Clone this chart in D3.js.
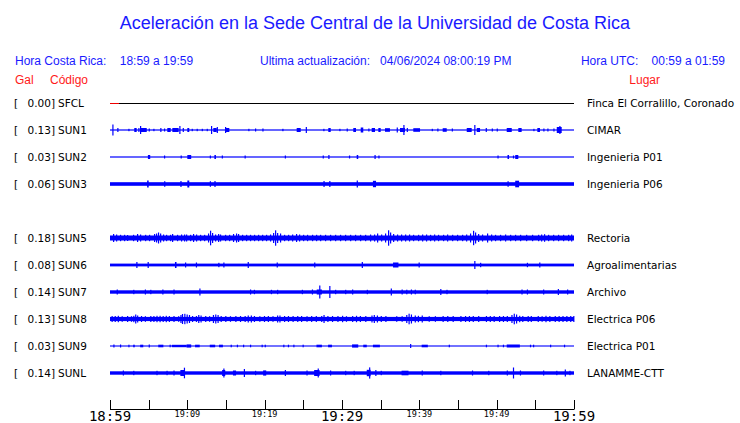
<!DOCTYPE html>
<html><head><meta charset="utf-8">
<script src="https://cdn.jsdelivr.net/npm/d3@7"></script>
<style>body{margin:0;background:#fff}svg{display:block}</style>
</head><body>
<script>
// ---------- DATA ----------
const title = "Aceleración en la Sede Central de la Universidad de Costa Rica";
const headerLocal = "Hora Costa Rica:    18:59 a 19:59";
const headerUpdate = "Ultima actualización:   04/06/2024 08:00:19 PM";
const headerUTC = "Hora UTC:    00:59 a 01:59";
const stationCodes = ["SFCL","SUN1","SUN2","SUN3","SUN4","SUN5","SUN6","SUN7","SUN8","SUN9","SUNL"];
const stationPGA   = [0.00, 0.13, 0.03, 0.06, null, 0.18, 0.08, 0.14, 0.13, 0.03, 0.14];
const stationPlace = ["Finca El Corralillo, Coronado","CIMAR","Ingenieria P01","Ingenieria P06","",
  "Rectoria","Agroalimentarias","Archivo","Electrica P06","Electrica P01","LANAMME-CTT"];
// background noise amplitude of each trace (trace units)
const noiseLevel = [0.5, 0.6, 0.6, 1.8, null, 2.5, 1.4, 1.7, 2.1, 0.55, 1.7];
// bursts: [start minute, end minute, amplitude] (minutes after 18:59)
const burstsSUN1 = [[0.3,0.3,5.5],[0.94,0.94,2],[2.37,2.37,1.2],[3.14,3.45,2],[3.66,3.66,2],[3.88,3.88,4],[3.97,4.75,2],
 [5.0,5.0,1.5],[5.6,5.6,1.2],[6.5,6.5,2],[6.98,6.98,1.5],[7.41,7.85,2],[8.06,8.88,2],[8.96,8.96,4],[9.4,9.4,2],
 [10.0,10.25,2],[10.56,10.56,1.2],[11.2,11.2,1.2],[11.86,11.86,1.2],[12.5,12.5,1.2],[13.06,13.06,4],[13.36,13.8,2],
 [13.8,13.8,3],[14.87,14.87,3],[14.87,15.43,2],[17.88,17.88,1.2],[18.75,18.75,1.5],[19.7,19.7,1.5],[22.28,22.28,1.2],
 [24.14,24.66,2],[25.31,25.31,3],[27.58,27.58,1.2],[28.23,28.54,2],[29.65,29.65,1.2],[30.6,30.6,1.5],
 [31.46,31.81,2],[32.42,32.75,2.5],[33.4,33.4,1.5],[33.84,34.27,2],[34.7,35.0,2],[35.56,36.2,1.8],[37.07,37.07,2.5],
 [37.5,38.15,2],[37.93,37.93,5],[38.37,38.37,2],[39.22,40.09,1.8],[41.6,41.6,1.2],[42.32,42.32,1.5],[43.02,43.54,1.8],
 [44.19,44.19,1.5],[46.13,46.77,2],[47.1,47.1,5],[47.42,47.85,2],[48.58,48.58,2],[49.36,49.36,1.5],[50.0,50.0,1.5],
 [51.3,51.95,2],[52.8,53.23,2],[54.74,54.74,1.2],[55.26,55.6,2],[56.03,56.03,1.5],[56.55,56.55,1.5],[57.33,57.33,1.5],
 [57.77,58.41,3],[58.1,58.1,4]];
const burstsSUN2 = [[4.9,5.2,2],[6.98,6.98,1.5],[9.13,9.13,1.5],[10.0,10.5,2],[12.9,12.9,1.5],[13.5,13.7,2],[14.45,14.45,1.5],
 [17.4,17.4,1.5],[22.6,22.6,1.5],[27.5,27.5,1.5],[28.23,28.35,2],[30.9,30.9,1.5],[31.9,32.1,2],[34.2,34.35,2],[34.7,34.7,1.5],
 [50.1,50.1,1.5],[51.4,51.6,2],[52.1,52.1,1.5],[52.4,52.8,2]];
const burstsSUN3 = [[4.8,5.0,3.5],[7.0,7.0,2.8],[9.1,9.1,3],[10.0,10.25,3.5],[12.9,12.9,2.8],[13.5,13.5,3],[27.6,27.6,3],
 [28.35,28.35,3],[31.9,32.0,3.5],[34.0,34.4,3.2],[51.4,51.4,2.8],[52.4,52.9,3.3]];
const burstsSUN5 = [[0.39,0.39,4],[0.78,0.78,3.5],[1.29,1.29,3.2],[1.81,1.81,3.2],[2.2,2.2,3],[2.97,2.97,3.2],[3.49,3.49,4],
 [3.88,3.88,3.5],[4.53,4.53,3.2],[5.04,5.04,3.2],[5.69,5.69,4],[5.95,5.95,4.5],[6.2,6.2,5.5],[6.47,6.47,4.5],[6.85,6.85,3.5],
 [7.24,7.24,3.2],[7.76,7.76,3.2],[8.02,8.02,4],[8.66,8.66,3.2],[9.18,9.18,3.5],[9.57,9.57,3.5],[9.83,9.83,3.5],[10.35,10.35,3.2],
 [10.73,10.73,4],[11.12,11.12,3.5],[11.64,11.64,3.2],[12.16,12.16,3.2],[12.67,12.67,4.5],[12.93,12.93,7.3],[13.19,13.19,5],
 [13.58,13.58,3.5],[13.97,13.97,4],[14.22,14.22,3.5],[14.87,14.87,3.2],[15.39,15.39,3.2],[15.9,15.9,4],[16.29,16.29,4.5],
 [16.55,16.55,4],[17.07,17.07,3.2],[17.59,17.59,3.2],[18.1,18.1,3.2],[18.62,18.62,3.2],[19.14,19.14,3.2],[19.66,19.66,3.2],
 [20.17,20.17,3.2],[20.69,20.69,3.5],[21.08,21.08,5],[21.34,21.34,7.7],[21.6,21.6,5],[21.98,21.98,4.5],[22.5,22.5,3.2],
 [23.02,23.02,3.2],[23.54,23.54,3.5],[24.05,24.05,4],[24.44,24.44,3.5],[24.96,24.96,3.2],[25.47,25.47,3.2],[26.12,26.12,3.2],
 [26.64,26.64,3.2],[27.16,27.16,3.2],[27.8,27.8,3.2],[28.45,28.45,3.2],[29.1,29.1,3.2],[29.74,29.74,3.2],[30.39,30.39,3.2],
 [31.04,31.04,3.2],[31.68,31.68,3.2],[32.33,32.33,3.2],[32.98,32.98,3.2],[33.62,33.62,3.5],[34.14,34.14,3.5],[34.53,34.53,4.5],
 [35.05,35.05,3.5],[35.56,35.56,4.5],[35.95,35.95,7.7],[36.21,36.21,5.5],[36.6,36.6,4],[37.11,37.11,3.5],[37.63,37.63,3.5],
 [38.15,38.15,3.5],[38.66,38.66,3.5],[39.18,39.18,3.2],[39.83,39.83,3.2],[40.35,40.35,3.5],[40.86,40.86,3.5],[41.38,41.38,3.2],
 [41.9,41.9,3.5],[42.41,42.41,3.2],[43.06,43.06,3.2],[43.58,43.58,3.5],[44.23,44.23,3.2],[44.87,44.87,3.2],[45.52,45.52,3.2],
 [46.04,46.04,3.5],[46.55,46.55,4.5],[46.94,46.94,7.2],[47.2,47.2,5.5],[47.59,47.59,4],[48.1,48.1,3.5],[48.75,48.75,4.5],
 [49.27,49.27,3.5],[49.78,49.78,3.2],[50.43,50.43,3.2],[51.08,51.08,3.5],[51.73,51.73,3.2],[52.37,52.37,3.2],[53.02,53.02,3.2],
 [53.8,53.8,3.2],[54.57,54.57,3.2],[55.35,55.35,3.2],[55.74,55.74,3.5],[56.12,56.12,3.8],[56.64,56.64,3.2],[57.29,57.29,3.2],
 [57.93,57.93,3.2],[58.58,58.58,3.2],[59.23,59.23,3.2],[59.62,59.62,3.5]];
const burstsSUN6 = [[3.4,3.4,3],[4.86,4.86,3],[8.4,8.6,3],[9.7,9.7,2.5],[11.1,11.1,2.5],[14.0,14.0,2.2],[14.65,14.65,2.5],
 [17.8,17.8,3],[21.55,21.55,2.5],[26.4,26.4,2.5],[32.55,32.55,3],[36.6,37.3,2.5],[39.9,39.9,2.5],[47.1,47.1,4],
 [47.85,47.85,2.2],[53.9,53.9,2.2],[55.5,55.5,2.5]];
const burstsSUN7 = [[0.86,0.86,2.5],[3.0,3.0,2.2],[4.5,4.5,2.5],[5.2,5.2,2.2],[6.76,6.76,2.5],[8.2,8.2,2.5],[11.55,11.55,3.5],
 [18.1,18.1,2.5],[18.6,18.6,2.2],[20.8,20.8,2.2],[21.6,21.6,2.2],[24.8,24.8,2.2],[26.1,26.1,2.5],[26.73,27.4,2.5],
 [27.05,27.05,6.5],[28.35,28.35,6],[29.1,29.1,2.2],[30.4,30.4,2.2],[31.3,31.3,2.5],[33.2,33.2,2.2],[36.3,36.3,3.5],
 [37.7,37.7,2.5],[38.3,38.3,2.3],[38.9,38.9,2.5],[39.4,39.4,2.3],[42.7,42.7,3],[43.5,43.5,2.2],[48.7,48.7,2.2],[53.2,53.2,2.5],[53.9,53.9,2.5],[56.0,56.0,2.5],
 [57.9,57.9,3],[59.1,59.1,2.5]];
const burstsSUN8 = [[0.2,0.2,3],[0.6,0.6,3],[1.0,1.0,3.2],[1.5,1.5,2.8],[2.2,2.2,3],[2.7,2.7,2.8],[3.0,3.0,3.2],[3.25,3.25,4.5],
 [3.5,3.5,3.5],[4.0,4.0,3],[4.5,4.5,2.8],[5.2,5.2,3],[5.6,5.6,3],[6.0,6.0,3.2],[6.4,6.4,3.2],[6.8,6.8,3],[7.2,7.2,3.2],
 [7.6,7.6,3],[8.2,8.2,3],[8.8,8.8,2.8],[9.1,9.1,4],[9.3,9.3,5],[9.6,9.6,5.2],[9.9,9.9,4.5],[10.2,10.2,4],[10.6,10.6,3],
 [11.1,11.1,3],[11.4,11.4,4],[11.7,11.7,3.5],[12.3,12.3,3],[12.8,12.8,2.8],[13.3,13.3,4],[13.6,13.6,4.5],[13.9,13.9,4],
 [14.3,14.3,3],[14.9,14.9,3],[15.5,15.5,2.8],[16.2,16.2,3],[16.8,16.8,3],[17.4,17.4,3],[17.8,17.8,3.5],[18.2,18.2,3.5],
 [18.6,18.6,3],[19.3,19.3,2.8],[19.9,19.9,3],[20.4,20.4,3],[21.0,21.0,2.8],[21.6,21.6,3.5],[21.9,21.9,3.5],[22.5,22.5,3],
 [23.0,23.0,3],[23.6,23.6,3],[24.2,24.2,3],[24.7,24.7,3],[25.4,25.4,2.8],[26.0,26.0,3],[26.6,26.6,3],[27.3,27.3,3],
 [27.6,27.6,4],[28.1,28.1,3],[28.7,28.7,3],[29.4,29.4,3],[30.0,30.0,3.2],[30.5,30.5,2.8],[31.3,31.3,3],[31.8,31.8,3.2],
 [32.3,32.3,3],[33.0,33.0,3],[33.8,33.8,3.5],[34.1,34.1,4],[34.5,34.5,3.5],[35.0,35.0,3],[35.6,35.6,3],[37.0,37.0,2.8],
 [37.7,37.7,2.8],[38.3,38.3,4],[38.6,38.6,5.3],[38.9,38.9,4.5],[39.4,39.4,3.5],[39.8,39.8,3.2],[40.3,40.3,3.5],[41.2,41.2,2.8],
 [42.0,42.0,2.8],[43.0,43.0,3],[43.6,43.6,3],[44.3,44.3,3],[45.3,45.3,3],[45.9,45.9,3],[46.4,46.4,3],[46.9,46.9,3],
 [47.6,47.6,3],[48.6,48.6,3],[49.1,49.1,3],[49.6,49.6,3],[50.3,50.3,3],[50.8,50.8,3],[51.3,51.3,3],[51.9,51.9,4],
 [52.2,52.2,5.3],[52.5,52.5,4.5],[52.9,52.9,3.2],[53.3,53.3,3],[54.0,54.0,3],[54.4,54.4,3],[55.3,55.3,3],[55.8,55.8,2.8],
 [56.3,56.3,3.2],[56.8,56.8,3],[57.5,57.5,3],[58.0,58.0,3],[58.5,58.5,3],[59.0,59.0,3],[59.5,59.5,3],[59.9,59.9,3]];
const burstsSUN9 = [[0.43,0.43,1.5],[1.29,1.29,1.5],[2.37,2.37,1.3],[3.0,3.2,1.3],[3.9,4.3,1.3],[5.0,5.0,1.5],[6.24,6.9,1.3],
 [7.7,7.7,1.3],[8.0,9.9,1.2],[9.9,10.5,1.6],[11.0,11.6,1.3],[12.9,13.6,1.3],[14.1,14.6,1.3],[15.6,15.6,1.3],[16.4,16.4,1.3],
 [17.2,17.2,1.3],[18.1,18.1,1.3],[19.6,19.6,1.3],[20.0,20.0,1.3],[22.4,22.4,1.3],[23.0,23.0,1.3],[23.7,23.7,1.3],
 [24.9,24.9,1.3],[26.7,27.4,1.3],[28.2,28.7,1.3],[31.3,32.1,1.6],[32.75,33.2,1.3],[34.0,34.9,1.3],[38.8,38.8,2],
 [40.3,41.1,1.3],[43.8,43.8,1.3],[48.6,48.6,1.3],[50.1,50.1,1.3],[50.8,50.8,1.3],[51.3,53.0,1.5],[54.3,54.3,1.3],
 [54.7,54.7,1.3],[56.9,56.9,1.3],[58.7,58.7,1.3]];
const burstsSUNL = [[1.65,1.65,2.5],[3.0,3.0,2.2],[6.0,6.0,2.2],[7.3,7.3,2.2],[8.2,8.2,2.5],[9.1,9.7,3],[9.55,9.55,5.3],
 [14.5,14.9,3],[14.65,14.65,4.5],[15.9,16.3,2.5],[17.3,17.3,4],[18.75,18.75,2.2],[19.8,20.2,2.6],[22.6,22.6,3],
 [25.4,25.4,2.5],[26.4,27.1,3],[26.85,26.85,4.5],[28.45,28.45,2.5],[30.4,30.4,2.2],[31.5,31.5,2.2],[33.2,33.7,3.2],
 [33.5,33.5,5.6],[34.3,34.3,3],[35.0,35.0,2.2],[37.7,38.6,2.3],[40.3,40.3,2.5],[42.7,42.7,2.2],[46.8,46.8,2.5],
 [48.9,48.9,2.2],[51.3,51.3,2.5],[52.1,52.1,5.5],[53.0,53.0,2.5],[56.0,56.0,2.5],[57.7,57.7,2.2],[58.8,58.8,3.5],[59.4,59.4,2.2]];
const stationBursts = [[], burstsSUN1, burstsSUN2, burstsSUN3, null, burstsSUN5, burstsSUN6, burstsSUN7, burstsSUN8, burstsSUN9, burstsSUNL];
const tickMinutes = [0,5,10,15,20,25,30,35,40,45,50,55,60];
const tickLabels = {0:"18:59",10:"19:09",20:"19:19",30:"19:29",40:"19:39",50:"19:49",60:"19:59"};
const majorLabels = [0,30,60];

// ---------- CHART ----------
const W = 740, H = 423;
const svg = d3.select("body").append("svg").attr("width", W).attr("height", H);
const sans = "'Liberation Sans', Arial, Helvetica, sans-serif";
const dv = "'DejaVu Sans', sans-serif";
const mono = "'DejaVu Sans Mono', monospace";

const x = d3.scaleLinear().domain([0, 60]).range([110, 574]);
const row = d3.scaleBand().domain(stationCodes).range([89.5, 386.5]);
const amp = d3.scaleLinear().domain([-13.5, 13.5]).range([13.5, -13.5]);

svg.append("text").attr("x", 375).attr("y", 29).attr("text-anchor", "middle")
  .attr("font-family", sans).attr("font-size", 18).attr("fill", "#1a1aff").text(title);

const hdr = svg.append("g").attr("font-family", sans).attr("font-size", 12).attr("fill", "#1a1aff");
hdr.append("text").attr("x", 15).attr("y", 65).style("white-space","pre").text(headerLocal);
hdr.append("text").attr("x", 260).attr("y", 65).style("white-space","pre").text(headerUpdate);
hdr.append("text").attr("x", 725).attr("y", 65).attr("text-anchor","end").style("white-space","pre").text(headerUTC);
const red = svg.append("g").attr("font-family", sans).attr("font-size", 12).attr("fill", "#ff1a1a");
red.append("text").attr("x", 15).attr("y", 84).text("Gal");
red.append("text").attr("x", 50).attr("y", 84).text("Código");
red.append("text").attr("x", 660).attr("y", 84).attr("text-anchor","end").text("Lugar");

stationCodes.forEach((code, i) => {
  if (stationPGA[i] === null) return;
  const cy = row(code) + row.bandwidth() / 2;
  const g = svg.append("g").attr("transform", `translate(0,${cy})`)
    .attr("font-family", dv).attr("font-size", 10.5).attr("fill", "#000");
  g.append("text").attr("x", 14).attr("y", 4).text("[");
  g.append("text").attr("x", 55).attr("y", 4).attr("text-anchor","end").text(stationPGA[i].toFixed(2) + "]");
  g.append("text").attr("x", 58).attr("y", 4).text(code);
  g.append("text").attr("x", 587).attr("y", 4).text(stationPlace[i]);

  if (code === "SFCL") {
    g.append("line").attr("x1", x(0)).attr("x2", x(60)).attr("y1", amp(0)).attr("y2", amp(0))
      .attr("stroke", "#000").attr("stroke-width", 1).attr("shape-rendering","crispEdges");
    g.append("line").attr("x1", x(0)).attr("x2", x(1.2)).attr("y1", amp(0)).attr("y2", amp(0))
      .attr("stroke", "#e00").attr("stroke-width", 1).attr("shape-rendering","crispEdges");
    return;
  }
  const n = noiseLevel[i];
  g.append("rect").attr("x", x(0)).attr("width", x(60) - x(0))
    .attr("y", amp(n)).attr("height", amp(-n) - amp(n)).attr("fill", "#0000ff");
  g.selectAll("rect.b").data(stationBursts[i]).join("rect").attr("class","b")
    .attr("x", d => x(d[0]))
    .attr("width", d => Math.max(1.2, x(d[1]) - x(d[0])))
    .attr("y", d => amp(d[2]))
    .attr("height", d => amp(-d[2]) - amp(d[2]))
    .attr("fill", "#0000ff");
});

// time axis
const ax = svg.append("g");
ax.append("line").attr("x1", x(0)).attr("x2", x(60)).attr("y1", 409.5).attr("y2", 409.5).attr("stroke","#000");
ax.selectAll("line.t").data(tickMinutes).join("line").attr("class","t")
  .attr("x1", d => Math.round(x(d)) + 0.5).attr("x2", d => Math.round(x(d)) + 0.5)
  .attr("y1", 400).attr("y2", 409.5).attr("stroke", "#000");
ax.selectAll("text").data(Object.keys(tickLabels).map(Number)).join("text")
  .attr("x", d => x(d)).attr("text-anchor","middle")
  .attr("y", d => majorLabels.includes(d) ? 421 : 417)
  .attr("font-family", mono)
  .attr("font-size", d => majorLabels.includes(d) ? 14 : 8.5)
  .attr("fill", "#000")
  .text(d => tickLabels[d]);
</script>
</body></html>
